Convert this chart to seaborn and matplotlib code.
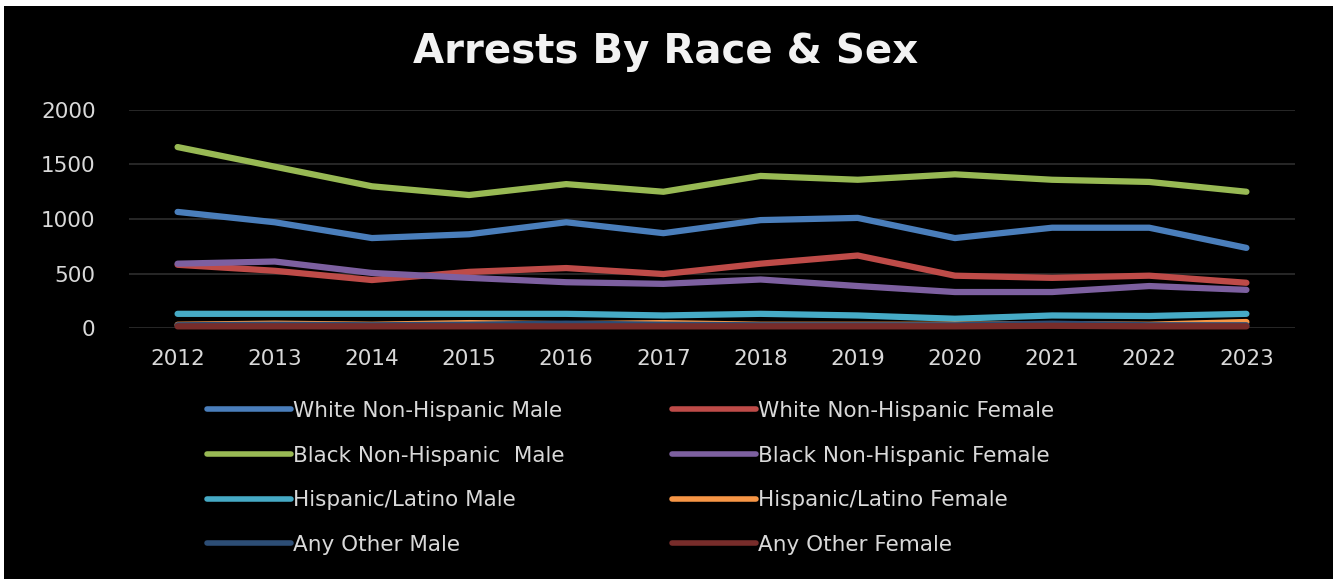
import matplotlib
matplotlib.use("Agg")
import matplotlib.pyplot as plt
from matplotlib.patches import Rectangle
from matplotlib.lines import Line2D
import seaborn as sns
import pandas as pd

# Yearly arrest counts by race and sex
years = [2012, 2013, 2014, 2015, 2016, 2017, 2018, 2019, 2020, 2021, 2022, 2023]
white_male = [1065, 970, 825, 860, 970, 870, 990, 1010, 825, 920, 920, 735]
white_female = [580, 525, 440, 515, 550, 495, 590, 665, 480, 460, 480, 415]
black_male = [1660, 1480, 1300, 1220, 1320, 1250, 1395, 1360, 1410, 1360, 1340, 1250]
black_female = [590, 610, 505, 460, 420, 405, 445, 385, 330, 330, 385, 350]
hispanic_male = [130, 130, 130, 130, 130, 115, 130, 115, 85, 115, 110, 130]
hispanic_female = [30, 40, 30, 45, 35, 45, 30, 30, 30, 35, 30, 55]
other_male = [25, 30, 25, 30, 40, 30, 25, 25, 25, 40, 25, 25]
other_female = [15, 15, 15, 15, 15, 15, 15, 15, 15, 20, 15, 15]

series_names = [
    "White Non-Hispanic Male", "White Non-Hispanic Female",
    "Black Non-Hispanic  Male", "Black Non-Hispanic Female",
    "Hispanic/Latino Male", "Hispanic/Latino Female",
    "Any Other Male", "Any Other Female",
]
series_values = [white_male, white_female, black_male, black_female,
                 hispanic_male, hispanic_female, other_male, other_female]
series_colors = ["#4A7EBB", "#BE4B48", "#98B954", "#7D60A0",
                 "#46AAC5", "#F79646", "#2C4D75", "#772C2A"]

rows = []
for name, vals in zip(series_names, series_values):
    for i, (yr, v) in enumerate(zip(years, vals)):
        rows.append({"pos": i, "year": yr, "series": name, "arrests": v})
df = pd.DataFrame(rows)

sns.set_theme(style="dark")
plt.rcParams["font.family"] = ["DejaVu Sans"]

fig = plt.figure(figsize=(13.33, 5.79), dpi=100)
fig.patch.set_facecolor("white")
# black chart area with a thin white margin on the top and left
fig.add_artist(Rectangle((4 / 1333, 0), 1 - 4 / 1333, 1 - 6 / 579,
                         transform=fig.transFigure, facecolor="black",
                         edgecolor="none", zorder=0))

ax = fig.add_axes([129 / 1333, (579 - 328) / 579, (1295 - 129) / 1333, 218 / 579])
ax.set_facecolor("black")

palette = dict(zip(series_names, series_colors))
sns.lineplot(data=df, x="pos", y="arrests", hue="series", hue_order=series_names,
             palette=palette, linewidth=4.5, ax=ax, legend=False,
             solid_capstyle="round", solid_joinstyle="round")
for line in ax.get_lines():
    line.set_clip_on(False)

ax.set_xlim(-0.5, len(years) - 0.5)
ax.set_ylim(0, 2000)
ax.set_yticks([0, 500, 1000, 1500, 2000])
ax.set_xticks(range(len(years)))
ax.set_xticklabels([str(y) for y in years])
ax.tick_params(axis="both", colors="#D9D9D9", labelsize=15.5, length=0)
ax.tick_params(axis="x", pad=15)
ax.tick_params(axis="y", pad=24)
for lbl in ax.get_xticklabels() + ax.get_yticklabels():
    lbl.set_color("#D9D9D9")
ax.grid(axis="y", color="#2E2E2E", linewidth=1.2)
ax.grid(axis="x", visible=False)
ax.set_xlabel("")
ax.set_ylabel("")
for s in ax.spines.values():
    s.set_visible(False)

fig.text(666 / 1333, 1 - 52 / 579, "Arrests By Race & Sex", ha="center", va="center",
         color="#F2F2F2", fontsize=29, fontweight="bold")

# two-column legend, drawn as two stacked groups
handles = {n: Line2D([0], [0], color=c, linewidth=4, solid_capstyle="round")
           for n, c in zip(series_names, series_colors)}
left_names = series_names[0::2]
right_names = series_names[1::2]
for names, x0 in ((left_names, 207), (right_names, 672)):
    leg = fig.legend([handles[n] for n in names], names, loc="upper left",
                     bbox_to_anchor=(x0 / 1333, 1 - 401 / 579), frameon=False,
                     fontsize=15.5, handlelength=3.9, handletextpad=0.1,
                     labelspacing=1.14, borderaxespad=0, borderpad=0)
    for t in leg.get_texts():
        t.set_color("#D9D9D9")

fig.savefig("out.png", dpi=100, facecolor=fig.get_facecolor())
